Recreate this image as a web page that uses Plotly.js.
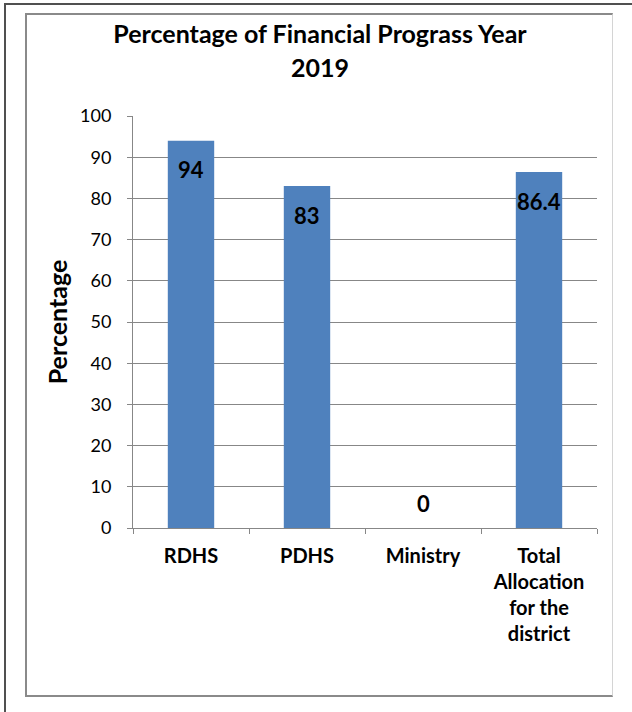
<!DOCTYPE html>
<html>
<head>
<meta charset="utf-8">
<script src="https://cdn.plot.ly/plotly-3.0.1.min.js"></script>
<style>
  html, body { margin: 0; padding: 0; background: #ffffff; width: 632px; height: 712px; overflow: hidden; }
  #outer { position: absolute; left: 4px; top: 3px; width: 700px; height: 800px;
           border-left: 2px solid #505050; border-top: 2px solid #505050; }
  #inner { position: absolute; left: 25px; top: 13px; width: 585px; height: 680px;
           border-left: 2px solid #8a8a8a; border-top: 2px solid #8a8a8a;
           border-bottom: 2px solid #8a8a8a; border-right: 1px solid #d4d4d4; }
  #chart { position: absolute; left: 0; top: 0; width: 632px; height: 712px; }
</style>
</head>
<body>
<div id="outer"></div>
<div id="inner"></div>
<div id="chart"></div>
<script>
const categories = ["RDHS", "PDHS", "Ministry", "Total<br>Allocation<br>for the<br>district"];
const values = [94, 83, 0, 86.4];
const valueLabels = ["94", "83", "0", "86.4"];
const yTicks = [0, 10, 20, 30, 40, 50, 60, 70, 80, 90, 100];

const FONT = "Lato, 'Open Sans', sans-serif";
const GRID = "#878787";

const plotH = 712 - 116 - 184;
const titleX = (320 - 133) / 464;

const annotations = values.map((v, i) => ({
  x: categories[i], y: v, xref: "x", yref: "y",
  text: "<b>" + valueLabels[i] + "</b>",
  showarrow: false,
  yanchor: "middle",
  yshift: v === 0 ? 25 : -29,
  font: { family: FONT, size: 22, color: "#000000" }
}));
annotations.push({
  x: titleX, xref: "paper", xanchor: "center",
  y: 1 + (116 - 67) / plotH, yref: "paper", yanchor: "middle",
  text: "<b>2019</b>", showarrow: false,
  font: { family: FONT, size: 25, color: "#000000" }
});

const trace = {
  type: "bar",
  x: categories,
  y: values,
  marker: { color: "#4F81BD" },
  hoverinfo: "none"
};

const layout = {
  width: 632, height: 712,
  margin: { l: 133, r: 35, t: 116, b: 184, autoexpand: false },
  paper_bgcolor: "rgba(0,0,0,0)",
  plot_bgcolor: "rgba(0,0,0,0)",
  showlegend: false,
  bargap: 0.6,
  title: {
    text: "<b>Percentage of Financial Prograss Year</b>",
    xref: "paper", x: titleX, xanchor: "center",
    yref: "container", y: 1 - 34 / 712, yanchor: "middle",
    font: { family: FONT, size: 25, color: "#000000" }
  },
  xaxis: {
    type: "category",
    tickson: "boundaries",
    ticks: "outside", ticklen: 5, tickcolor: GRID, tickwidth: 1,
    showline: true, linecolor: GRID, linewidth: 1,
    showgrid: false,
    tickfont: { family: FONT, size: 20, color: "#000000" },
    tickprefix: "<b>", ticksuffix: "</b>",
    ticklabelstandoff: 10,
    fixedrange: true
  },
  yaxis: {
    range: [0, 100],
    tickvals: yTicks,
    ticktext: yTicks.map(String),
    ticks: "outside", ticklen: 5, tickcolor: GRID, tickwidth: 1,
    showline: true, linecolor: GRID, linewidth: 1,
    showgrid: true, gridcolor: GRID, gridwidth: 1,
    zeroline: false,
    tickfont: { family: FONT, size: 18, color: "#000000" },
    ticklabelstandoff: 12,
    title: {
      text: "<b>Percentage</b>",
      font: { family: FONT, size: 25, color: "#000000" },
      standoff: 5
    },
    automargin: false,
    fixedrange: true
  },
  annotations: annotations
};

Plotly.newPlot("chart", [trace], layout, { staticPlot: true, displayModeBar: false });
</script>
</body>
</html>
